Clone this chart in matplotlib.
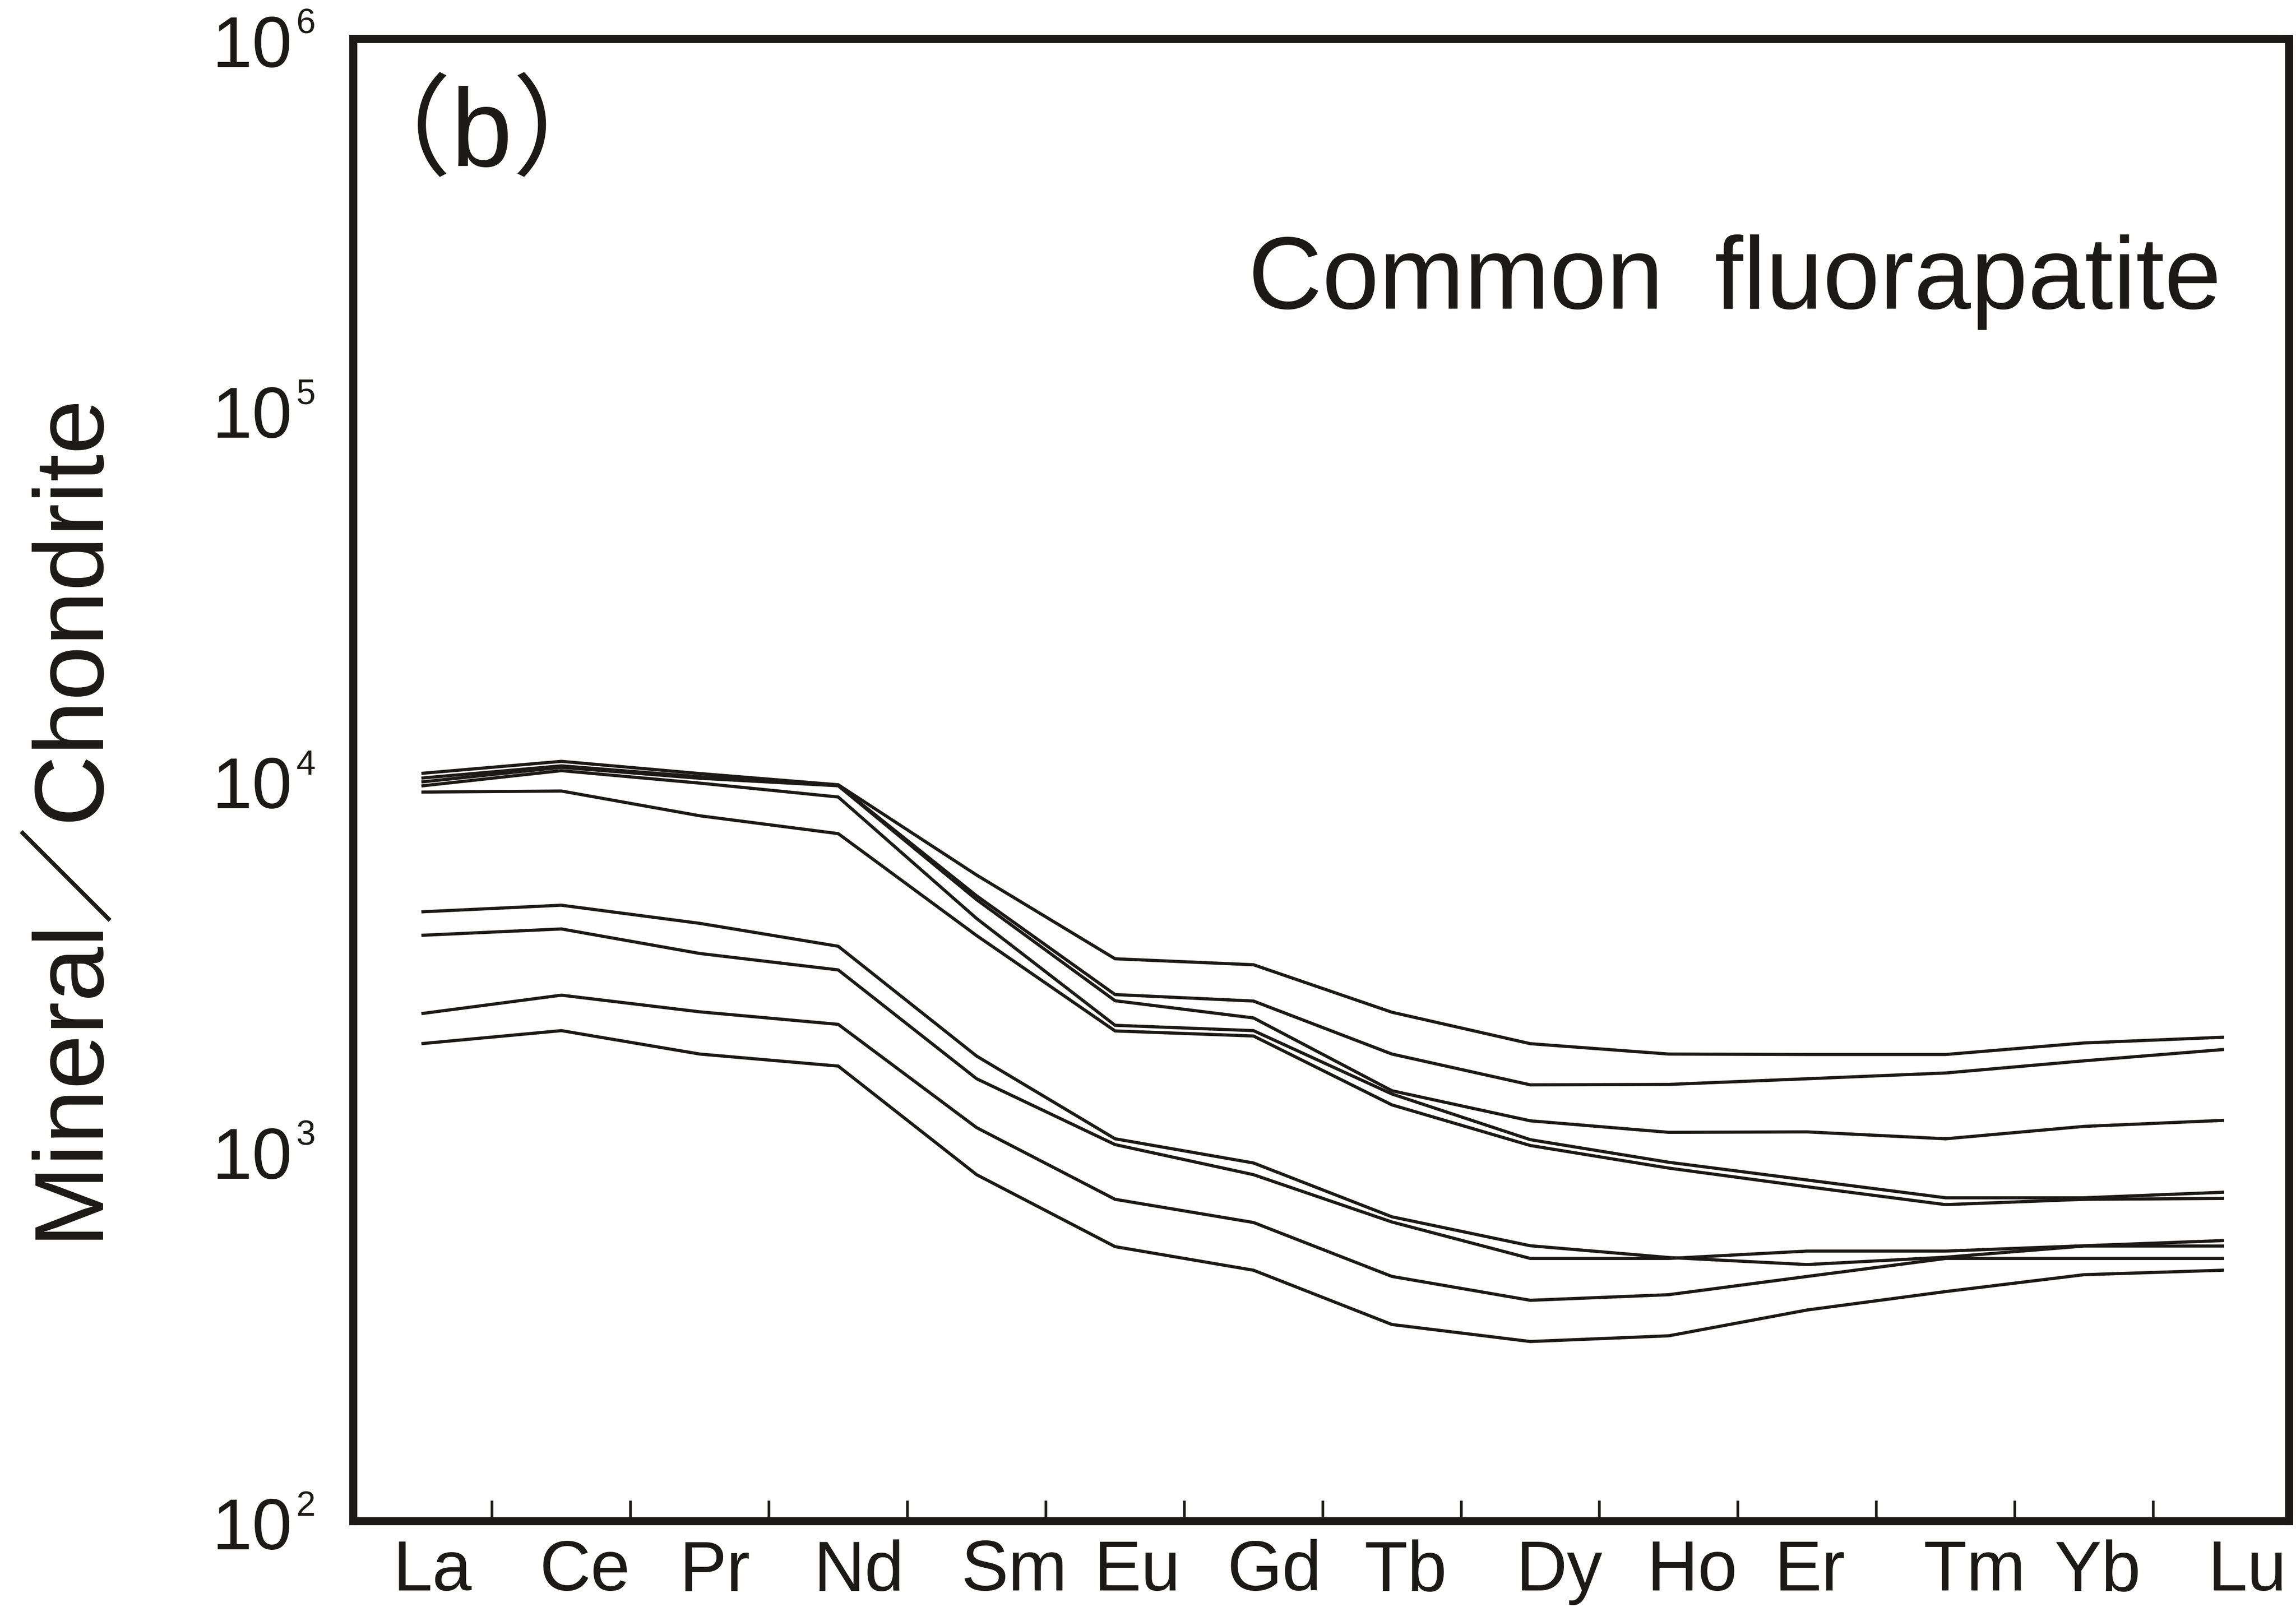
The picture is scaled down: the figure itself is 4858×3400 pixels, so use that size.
import matplotlib
matplotlib.use("Agg")
import matplotlib.pyplot as plt
import matplotlib.transforms as mtransforms
from matplotlib.ticker import NullLocator

plt.rcParams['font.family'] = ['Liberation Sans', 'Noto Sans CJK SC']

INK = '#1c1a17'

elements = ["La", "Ce", "Pr", "Nd", "Sm", "Eu", "Gd", "Tb", "Dy", "Ho", "Er", "Tm", "Yb", "Lu"]

# chondrite-normalised REE patterns, one list per apatite analysis
grain_1 = [10420, 11220, 10400, 9700, 5535, 3290, 3170, 2360, 1941, 1820, 1815, 1815, 1950, 2020]
grain_2 = [10120, 10910, 10200, 9670, 4864, 2634, 2530, 1820, 1503, 1507, 1561, 1618, 1745, 1871]
grain_3 = [9880, 10810, 10100, 9640, 4750, 2535, 2278, 1449, 1202, 1119, 1122, 1075, 1161, 1205]
grain_4 = [9640, 10590, 9800, 8990, 4225, 2176, 2105, 1420, 1069, 929, 832, 745, 745, 771]
grain_5 = [9270, 9330, 8000, 7160, 3800, 2101, 2036, 1327, 1031, 896, 798, 714, 738, 742]
grain_6 = [4406, 4589, 4100, 3556, 1797, 1075, 925, 662, 553, 514, 492, 515, 552, 552]
grain_7 = [3808, 3960, 3400, 3070, 1561, 1037, 860, 641, 511, 511, 535, 535, 553, 571]
grain_8 = [2343, 2624, 2366, 2189, 1152, 738, 639, 457, 394, 408, 457, 511, 511, 511]
grain_9 = [1943, 2105, 1820, 1689, 860, 550, 475, 339, 305, 316, 371, 416, 462, 475]

patterns = [grain_1, grain_2, grain_3, grain_4, grain_5, grain_6, grain_7, grain_8, grain_9]

decades = [2, 3, 4, 5, 6]

# element labels sit a little right of their column
label_x = [0.07, 1.17, 2.11, 3.15, 4.27, 5.16, 6.15, 7.10, 8.21, 9.17, 10.02, 11.21, 12.10, 13.18]

fig = plt.figure(figsize=(48.58, 34.0), dpi=100)
ax = fig.add_axes([0.15377, 0.05353, 0.84314, 0.92235])

x = list(range(len(elements)))
for values in patterns:
    ax.plot(x, values, color=INK, linewidth=4.8, solid_joinstyle='miter')

ax.set_yscale('log')
ax.set_ylim(1e2, 1e6)
ax.set_xlim(-0.505, 13.48)

for side in ['left', 'right', 'top', 'bottom']:
    ax.spines[side].set_linewidth(12.2)
    ax.spines[side].set_color(INK)

# inward ticks between the element columns
ax.set_xticks([k + 0.5 for k in range(len(elements) - 1)])
ax.set_xticklabels([])
ax.tick_params(axis='x', direction='in', length=31, width=4, color=INK)
ax.yaxis.set_major_locator(NullLocator())
ax.yaxis.set_minor_locator(NullLocator())
ax.tick_params(axis='y', left=False, right=False)

xt = ax.get_xaxis_transform()
for xpos, name in zip(label_x, elements):
    ax.text(xpos, -0.047, name, transform=xt, ha='center', va='baseline',
            fontsize=108, color=INK)

# y tick labels built as "10" plus a small raised exponent
yt = ax.get_yaxis_transform()
base_tr = yt + mtransforms.ScaledTranslation(0, -43 / 72, fig.dpi_scale_trans)
exp_tr = yt + mtransforms.ScaledTranslation(0, 8 / 72, fig.dpi_scale_trans)
for k in decades:
    ax.text(-0.0315, 10 ** k, "10", transform=base_tr, ha='right', va='baseline',
            fontsize=110, color=INK, clip_on=False)
    ax.text(-0.0295, 10 ** k, str(k), transform=exp_tr, ha='left', va='baseline',
            fontsize=53, color=INK, clip_on=False)

ax.text(-0.1225, 0.4764, "Mineral／Chondrite", transform=ax.transAxes, rotation=90,
        ha='right', va='center', fontsize=150, color=INK)

ax.text(0.0667, 0.9136, "（b）", transform=ax.transAxes, ha='center', va='baseline',
        fontsize=168, color=INK)

ax.text(0.965, 0.8179, "Common\u2002fluorapatite", transform=ax.transAxes, ha='right',
        va='baseline', fontsize=156, color=INK)

fig.savefig("out.png", dpi=100, facecolor='white')
